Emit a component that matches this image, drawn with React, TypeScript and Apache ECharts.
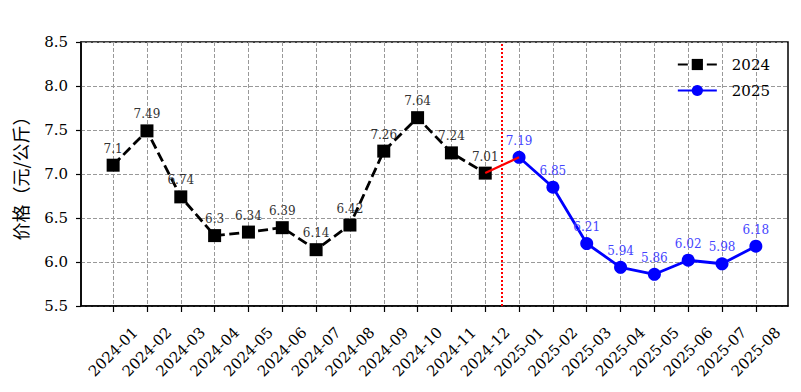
import React, { useEffect, useRef } from 'react';
import * as echarts from 'echarts';

const months = [
  '2024-01', '2024-02', '2024-03', '2024-04', '2024-05', '2024-06',
  '2024-07', '2024-08', '2024-09', '2024-10', '2024-11', '2024-12',
  '2025-01', '2025-02', '2025-03', '2025-04', '2025-05', '2025-06',
  '2025-07', '2025-08',
];
const values2024 = [7.1, 7.49, 6.74, 6.3, 6.34, 6.39, 6.14, 6.42, 7.26, 7.64, 7.24, 7.01];
const values2025 = [7.19, 6.85, 6.21, 5.94, 5.86, 6.02, 5.98, 6.18];
const yTicks = [5.5, 6.0, 6.5, 7.0, 7.5, 8.0, 8.5];
const dividerAt = 11.5;

const SERIF = "'DejaVu Serif', 'Liberation Serif', serif";

export default function App() {
  const ref = useRef<HTMLDivElement>(null);
  useEffect(() => {
    if (!ref.current) return;
    const chart = echarts.init(ref.current, undefined, { renderer: 'svg' });
    const idx = months.map((_, i) => i);
    const data2024 = values2024.map((v, i) => [i, v]);
    const data2025 = values2025.map((v, i) => [i + values2024.length, v]);
    const bridge = [
      [values2024.length - 1, values2024[values2024.length - 1]],
      [values2024.length, values2025[0]],
    ];
    chart.setOption({
      animation: false,
      backgroundColor: '#fff',
      grid: {
        left: 81, right: 13, top: 42, bottom: 86,
        show: true, borderColor: '#000', borderWidth: 1.5, backgroundColor: 'transparent',
        outerBoundsMode: 'none',
      },
      legend: {
        data: ['2024', '2025'],
        orient: 'vertical',
        right: 31,
        top: 57,
        padding: 0,
        itemWidth: 39,
        itemHeight: 14,
        itemGap: 11,
        textStyle: { fontFamily: SERIF, fontSize: 15, color: '#000', padding: [0, 0, 0, 10] },
      },
      xAxis: {
        type: 'value',
        min: -0.95,
        max: 19.95,
        axisLine: { show: true, onZero: false, lineStyle: { color: '#000', width: 1.5 } },
        axisTick: { show: true, inside: false, length: 6, lineStyle: { color: '#000', width: 1.2 }, customValues: idx },
        axisLabel: {
          customValues: idx,
          formatter: (v: number) => months[Math.round(v)] ?? '',
          rotate: 45,
          align: 'center',
          verticalAlign: 'middle',
          margin: 46,
          fontFamily: SERIF,
          fontSize: 15,
          color: '#000',
        },
        splitLine: { show: true, lineStyle: { color: '#999', type: [4, 2], width: 1 } },
      },
      yAxis: {
        type: 'value',
        min: 5.5,
        max: 8.5,
        interval: 0.5,
        name: '价格（元/公斤）',
        nameLocation: 'middle',
        nameGap: 52,
        nameTextStyle: { fontFamily: "'Noto Sans CJK SC', sans-serif", fontSize: 18, color: '#000' },
        axisLine: { show: true, onZero: false, lineStyle: { color: '#000', width: 1.5 } },
        axisTick: { show: true, inside: false, length: 5, lineStyle: { color: '#000', width: 1.2 } },
        axisLabel: {
          formatter: (v: number) => (yTicks.includes(v) ? v.toFixed(1) : ''),
          margin: 13,
          fontFamily: SERIF,
          fontSize: 15,
          color: '#000',
        },
        splitLine: { show: true, lineStyle: { color: '#999', type: [4, 2], width: 1 } },
      },
      series: [
        {
          name: '2024',
          type: 'line',
          data: data2024,
          symbol: 'rect',
          symbolSize: 13,
          z: 3,
          itemStyle: { color: '#000' },
          lineStyle: { color: '#000', width: 2.8, type: [10, 4.5] },
          label: {
            show: true,
            position: 'top',
            distance: 4,
            formatter: (p: any) => String(p.value[1]),
            fontFamily: SERIF,
            fontSize: 12,
            color: '#333',
          },
          markLine: {
            silent: true,
            symbol: ['none', 'none'],
            label: { show: false },
            lineStyle: { color: '#ff0000', type: 'dotted', width: 2 },
            data: [{ xAxis: dividerAt }],
          },
        },
        {
          name: 'bridge',
          type: 'line',
          data: bridge,
          symbol: 'none',
          z: 4,
          lineStyle: { color: '#ff0000', width: 2.2, type: 'solid' },
          label: { show: false },
        },
        {
          name: '2025',
          type: 'line',
          data: data2025,
          symbol: 'circle',
          symbolSize: 13,
          z: 3,
          itemStyle: { color: '#0000ff' },
          lineStyle: { color: '#0000ff', width: 2.8 },
          label: {
            show: true,
            position: 'top',
            distance: 4,
            formatter: (p: any) => String(p.value[1]),
            fontFamily: SERIF,
            fontSize: 12,
            color: '#4444ff',
          },
        },
      ],
    });
    return () => chart.dispose();
  }, []);
  return <div ref={ref} style={{ width: 801, height: 392, position: 'absolute', left: 0, top: 0 }} />;
}
